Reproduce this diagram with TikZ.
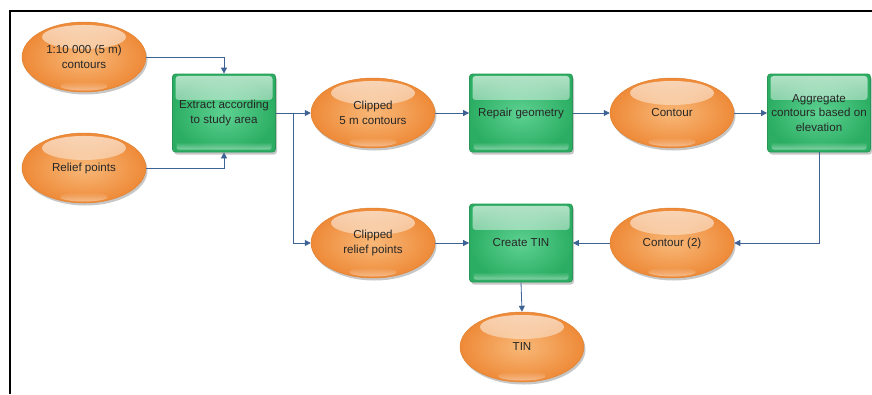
\documentclass[tikz,border=0pt]{standalone}
\usepackage{fontspec}
\setmainfont{Liberation Sans}
\usetikzlibrary{shapes.geometric,arrows.meta,shadows,calc,fadings}
\definecolor{orlight}{HTML}{F8B878}
\definecolor{ordark}{HTML}{EE8A38}
\definecolor{oredge}{HTML}{E08434}
\definecolor{grlight}{HTML}{5ED192}
\definecolor{grdark}{HTML}{2BAE63}
\definecolor{gredge}{HTML}{279655}
\definecolor{flow}{HTML}{3D6294}
\definecolor{txt}{HTML}{262626}
\tikzfading[name=glossdown, top color=transparent!35, bottom color=transparent!100]
\tikzfading[name=glossup, top color=transparent!100, bottom color=transparent!30]
\tikzset{
  lbl/.style={align=center, text=txt, font=\fontsize{11.6}{14.8}\selectfont},
  dataell/.style={ellipse, lbl, minimum width=124pt, minimum height=70pt, inner sep=0pt,
    draw=oredge, line width=0.5pt, shading=radial, inner color=orlight, outer color=ordark,
    drop shadow={shadow xshift=1.5pt, shadow yshift=-2.5pt, opacity=0.22, fill=black},
    path picture={
      \fill[white, path fading=glossdown] ($(path picture bounding box.north)+(0,-15pt)$) ellipse (42pt and 12pt);
      \fill[white, opacity=0.6, path fading=glossup] ($(path picture bounding box.south)+(0,6pt)$) ellipse (24pt and 4.5pt);
    }},
  procbox/.style={rectangle, lbl, rounded corners=3pt, minimum width=103pt, minimum height=78pt,
    inner sep=2pt, draw=gredge, line width=0.8pt, shading=radial, inner color=grlight, outer color=grdark,
    drop shadow={shadow xshift=1.5pt, shadow yshift=-2.5pt, opacity=0.22, fill=black},
    path picture={
      \fill[white, path fading=glossdown, rounded corners=3pt]
        ($(path picture bounding box.north west)+(3pt,-2pt)$) rectangle
        ($(path picture bounding box.north east)+(-3pt,-26pt)$);
      \fill[white, opacity=0.6, path fading=glossup, rounded corners=2pt]
        ($(path picture bounding box.south west)+(4pt,2.5pt)$) rectangle
        ($(path picture bounding box.south east)+(-4pt,10pt)$);
    }},
  flowarrow/.style={draw=flow, line width=0.8pt, -{Triangle[length=6pt,width=6pt]}},
}
\begin{document}
\begin{tikzpicture}[x=1pt, y=-1pt]
  \useasboundingbox (0,0) rectangle (872,394);
  % outer frame (open at right and bottom)
  \draw[line width=2pt, black] (10,394) -- (10,11) -- (873,11);

  % inputs
  \node[dataell] (cont10) at (84,57) {1:10 000 (5 m)\\contours};
  \node[dataell] (relief) at (84,168) {Relief points};
  \node[procbox] (extract) at (224,113) {Extract according\\to study area};

  % upper row
  \node[dataell] (clip5) at (373,113) {Clipped\\5 m contours};
  \node[procbox] (repair) at (521,113) {Repair geometry};
  \node[dataell] (contour) at (672,113) {Contour};
  \node[procbox] (aggr) at (819,113) {Aggregate\\contours based on\\elevation};

  % lower row
  \node[dataell] (cliprel) at (373,243) {Clipped\\relief points};
  \node[procbox] (mktin) at (521,243) {Create TIN};
  \node[dataell] (contour2) at (672,243) {Contour (2)};
  \node[dataell] (tin) at (522,347) {TIN};

  \coordinate (split) at (293,113);

  % connectors
  \draw[flowarrow] (cont10.east) -| (extract.north);
  \draw[flowarrow] (relief.east) -| (extract.south);
  \draw[flowarrow] (extract.east) -- (clip5.west);
  \draw[flowarrow] (split) |- (cliprel.west);
  \draw[flowarrow] (clip5.east) -- (repair.west);
  \draw[flowarrow] (repair.east) -- (contour.west);
  \draw[flowarrow] (contour.east) -- (aggr.west);
  \draw[flowarrow] (aggr.south) |- (contour2.east);
  \draw[flowarrow] (contour2.west) -- (mktin.east);
  \draw[flowarrow] (cliprel.east) -- (mktin.west);
  \draw[flowarrow] (mktin.south) -- (tin.north);
\end{tikzpicture}
\end{document}
